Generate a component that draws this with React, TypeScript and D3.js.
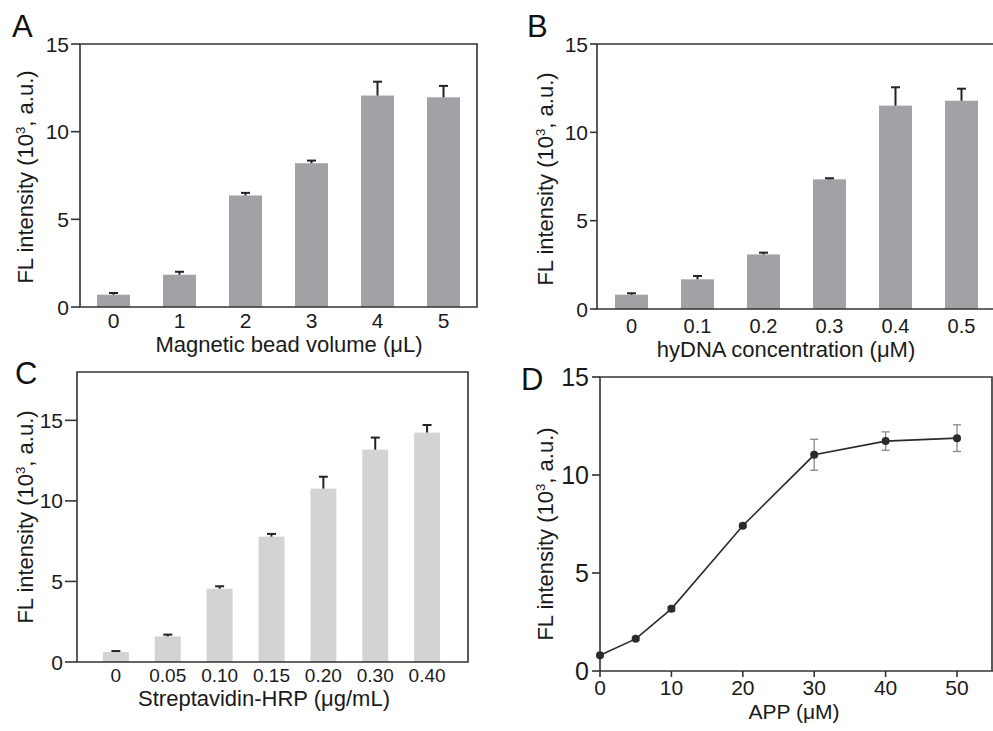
import React, { useEffect, useRef } from "react";
import * as d3 from "d3";

// panel A
const aCategories = ["0", "1", "2", "3", "4", "5"];
const aValues = [0.7, 1.84, 6.36, 8.2, 12.06, 11.96];
const aErrors = [0.1, 0.17, 0.15, 0.15, 0.79, 0.65];

// panel B
const bCategories = ["0", "0.1", "0.2", "0.3", "0.4", "0.5"];
const bValues = [0.81, 1.68, 3.09, 7.34, 11.51, 11.79];
const bErrors = [0.08, 0.19, 0.1, 0.06, 1.04, 0.68];

// panel C
const cCategories = ["0", "0.05", "0.10", "0.15", "0.20", "0.30", "0.40"];
const cValues = [0.62, 1.59, 4.55, 7.78, 10.76, 13.18, 14.24];
const cErrors = [0.06, 0.11, 0.15, 0.17, 0.74, 0.75, 0.47];

// panel D
const dX = [0, 5, 10, 20, 30, 40, 50];
const dY = [0.8, 1.64, 3.17, 7.41, 11.03, 11.73, 11.88];
const dErrors = [0.05, 0.07, 0.12, 0.08, 0.79, 0.47, 0.68];
const dXTicks = [0, 10, 20, 30, 40, 50];

const yTicks = [0, 5, 10, 15];

const FONT = "'Liberation Sans', Arial, sans-serif";
const INK = "#1a1a1a";
const AXIS = "#333";

type Svg = d3.Selection<SVGSVGElement, unknown, null, undefined>;

function yTitle(svg: Svg, x: number, y: number, size: number) {
  const t = svg
    .append("text")
    .attr("transform", `translate(${x},${y}) rotate(-90)`)
    .attr("text-anchor", "middle")
    .style("font-family", FONT)
    .style("font-size", size + "px")
    .style("fill", INK);
  t.append("tspan").text("FL intensity (10");
  t.append("tspan").attr("dy", -size * 0.38).style("font-size", size * 0.6 + "px").text("3");
  t.append("tspan").attr("dy", size * 0.38).text(", a.u.)");
}

function panelLetter(svg: Svg, x: number, y: number, letter: string) {
  svg
    .append("text")
    .attr("x", x)
    .attr("y", y)
    .style("font-family", FONT)
    .style("font-size", "31px")
    .style("fill", "#111")
    .text(letter);
}

function barPanel(
  svg: Svg,
  o: {
    cats: string[];
    vals: number[];
    errs: number[];
    x0: number;
    x1: number;
    top: number;
    bottom: number;
    yMax: number;
    band: [number, number];
    outer: number;
    color: string;
    box: "full" | "open";
    tickLen: number;
    yTickSize: number;
    xTickSize: number;
    xTickY: number;
    title: string;
    titleX: number;
    titleY: number;
    yTitleX: number;
    yTitleY: number;
    letter: [number, number, string];
  }
) {
  const x = d3.scaleBand<string>().domain(o.cats).range(o.band).paddingInner(0.5).paddingOuter(o.outer);
  const y = d3.scaleLinear().domain([0, o.yMax]).range([o.bottom, o.top]);
  const g = svg.append("g");

  const rows = o.cats.map((c, i) => ({ c, v: o.vals[i], e: o.errs[i] }));

  g.selectAll("rect.bar")
    .data(rows)
    .enter()
    .append("rect")
    .attr("x", (d) => x(d.c)!)
    .attr("width", x.bandwidth())
    .attr("y", (d) => y(d.v))
    .attr("height", (d) => y(0) - y(d.v))
    .style("fill", o.color);

  const cx = (d: { c: string }) => x(d.c)! + x.bandwidth() / 2;
  g.selectAll("line.err")
    .data(rows)
    .enter()
    .append("line")
    .attr("x1", cx)
    .attr("x2", cx)
    .attr("y1", (d) => y(d.v))
    .attr("y2", (d) => y(d.v + d.e))
    .style("stroke", "#222")
    .style("stroke-width", 2);
  g.selectAll("line.cap")
    .data(rows)
    .enter()
    .append("line")
    .attr("x1", (d) => cx(d) - 4.5)
    .attr("x2", (d) => cx(d) + 4.5)
    .attr("y1", (d) => y(d.v + d.e))
    .attr("y2", (d) => y(d.v + d.e))
    .style("stroke", "#222")
    .style("stroke-width", 2);

  // frame
  const frame =
    o.box === "full"
      ? `M${o.x0},${o.bottom}V${o.top}H${o.x1}V${o.bottom}Z`
      : `M${o.x1},${o.top}H${o.x0}V${o.bottom}H${o.x1}`;
  g.append("path").attr("d", frame).style("fill", "none").style("stroke", AXIS).style("stroke-width", 1.6);

  // y ticks
  yTicks.forEach((t) => {
    g.append("line")
      .attr("x1", o.x0 - o.tickLen)
      .attr("x2", o.x0)
      .attr("y1", y(t))
      .attr("y2", y(t))
      .style("stroke", AXIS)
      .style("stroke-width", 1.6);
    g.append("text")
      .attr("x", o.x0 - o.tickLen - 2)
      .attr("y", y(t))
      .attr("dy", "0.36em")
      .attr("text-anchor", "end")
      .style("font-family", FONT)
      .style("font-size", o.yTickSize + "px")
      .style("fill", INK)
      .text(t);
  });

  // x labels
  g.selectAll("text.xl")
    .data(rows)
    .enter()
    .append("text")
    .attr("x", cx)
    .attr("y", o.xTickY)
    .attr("text-anchor", "middle")
    .style("font-family", FONT)
    .style("font-size", o.xTickSize + "px")
    .style("fill", INK)
    .text((d) => d.c);

  svg
    .append("text")
    .attr("x", o.titleX)
    .attr("y", o.titleY)
    .attr("text-anchor", "middle")
    .style("font-family", FONT)
    .style("font-size", "22px")
    .style("fill", INK)
    .text(o.title);

  yTitle(svg, o.yTitleX, o.yTitleY, 22);
  panelLetter(svg, o.letter[0], o.letter[1], o.letter[2]);
}

function linePanel(svg: Svg) {
  const x0 = 600,
    x1 = 992,
    top = 377,
    bottom = 671;
  const x = d3.scaleLinear().domain([0, 54.9]).range([x0, x1]);
  const y = d3.scaleLinear().domain([0, 15]).range([bottom, top]);
  const g = svg.append("g");
  const pts = dX.map((v, i) => ({ x: v, y: dY[i], e: dErrors[i] }));

  g.append("path")
    .attr("d", `M${x0},${bottom}V${top}H${x1}V${bottom}`)
    .style("fill", "none")
    .style("stroke", AXIS)
    .style("stroke-width", 1.6);
  g.append("line")
    .attr("x1", x0)
    .attr("x2", 993)
    .attr("y1", bottom)
    .attr("y2", bottom)
    .style("stroke", AXIS)
    .style("stroke-width", 1.6);

  yTicks.forEach((t) => {
    g.append("line")
      .attr("x1", x0 - 8)
      .attr("x2", x0)
      .attr("y1", y(t))
      .attr("y2", y(t))
      .style("stroke", AXIS)
      .style("stroke-width", 1.6);
    g.append("text")
      .attr("x", x0 - 11)
      .attr("y", y(t))
      .attr("dy", "0.36em")
      .attr("text-anchor", "end")
      .style("font-family", FONT)
      .style("font-size", "25px")
      .style("fill", INK)
      .text(t);
  });
  dXTicks.forEach((t) => {
    g.append("line")
      .attr("x1", x(t))
      .attr("x2", x(t))
      .attr("y1", bottom)
      .attr("y2", bottom + 6)
      .style("stroke", AXIS)
      .style("stroke-width", 1.6);
    g.append("text")
      .attr("x", x(t))
      .attr("y", 695)
      .attr("text-anchor", "middle")
      .style("font-family", FONT)
      .style("font-size", "21px")
      .style("fill", INK)
      .text(t);
  });

  // error bars
  pts.forEach((p) => {
    const px = x(p.x);
    g.append("line")
      .attr("x1", px)
      .attr("x2", px)
      .attr("y1", y(p.y - p.e))
      .attr("y2", y(p.y + p.e))
      .style("stroke", "#888")
      .style("stroke-width", 1.3);
    [p.y - p.e, p.y + p.e].forEach((v) =>
      g
        .append("line")
        .attr("x1", px - 4)
        .attr("x2", px + 4)
        .attr("y1", y(v))
        .attr("y2", y(v))
        .style("stroke", "#888")
        .style("stroke-width", 1.3)
    );
  });

  const line = d3
    .line<{ x: number; y: number }>()
    .x((d) => x(d.x))
    .y((d) => y(d.y));
  g.append("path").attr("d", line(pts)!).style("fill", "none").style("stroke", "#2b2b2b").style("stroke-width", 1.6);
  g.selectAll("circle")
    .data(pts)
    .enter()
    .append("circle")
    .attr("cx", (d) => x(d.x))
    .attr("cy", (d) => y(d.y))
    .attr("r", 4)
    .style("fill", "#2b2b2b");

  svg
    .append("text")
    .attr("x", 794)
    .attr("y", 719)
    .attr("text-anchor", "middle")
    .style("font-family", FONT)
    .style("font-size", "21px")
    .style("fill", INK)
    .text("APP (μM)");
  yTitle(svg, 553, 534, 22);
  panelLetter(svg, 521, 390, "D");
}

export default function App() {
  const ref = useRef<SVGSVGElement>(null);

  useEffect(() => {
    const svg = d3.select(ref.current!) as Svg;
    svg.selectAll("*").remove();

    barPanel(svg, {
      cats: aCategories,
      vals: aValues,
      errs: aErrors,
      x0: 80,
      x1: 477,
      top: 44,
      bottom: 307,
      yMax: 15,
      band: [97, 460],
      outer: 0,
      color: "#a2a2a6",
      box: "full",
      tickLen: 9,
      yTickSize: 21,
      xTickSize: 21,
      xTickY: 328,
      title: "Magnetic bead volume (μL)",
      titleX: 289,
      titleY: 352,
      yTitleX: 33,
      yTitleY: 177,
      letter: [12, 37, "A"],
    });

    barPanel(svg, {
      cats: bCategories,
      vals: bValues,
      errs: bErrors,
      x0: 597,
      x1: 993,
      top: 44,
      bottom: 309,
      yMax: 15,
      band: [615, 978],
      outer: 0,
      color: "#a2a2a6",
      box: "open",
      tickLen: 7,
      yTickSize: 21,
      xTickSize: 20,
      xTickY: 333,
      title: "hyDNA concentration (μM)",
      titleX: 786,
      titleY: 357,
      yTitleX: 553,
      yTitleY: 179,
      letter: [527, 37, "B"],
    });

    barPanel(svg, {
      cats: cCategories,
      vals: cValues,
      errs: cErrors,
      x0: 77,
      x1: 468,
      top: 372,
      bottom: 662,
      yMax: 18,
      band: [77, 466],
      outer: 0.5,
      color: "#d3d3d3",
      box: "full",
      tickLen: 12,
      yTickSize: 21,
      xTickSize: 19,
      xTickY: 682,
      title: "Streptavidin-HRP (μg/mL)",
      titleX: 264,
      titleY: 706,
      yTitleX: 33,
      yTitleY: 517,
      letter: [15, 384, "C"],
    });

    linePanel(svg);
  }, []);

  return (
    <div style={{ position: "absolute", left: 0, top: 0 }}>
      <svg ref={ref} width={993} height={731} style={{ display: "block", background: "#fff" }} />
    </div>
  );
}
